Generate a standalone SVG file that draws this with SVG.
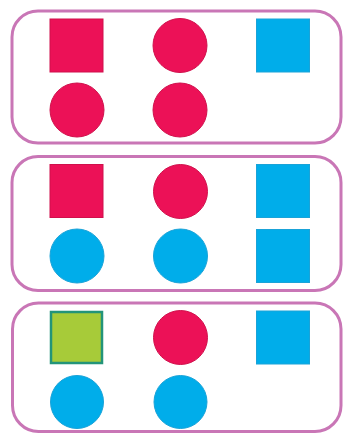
<svg xmlns="http://www.w3.org/2000/svg" width="346" height="434" viewBox="0 0 346 434">
<style>
.box{fill:#fff;stroke:#c976b6;stroke-width:3}
.red{fill:#ec1157;stroke:#d0104c;stroke-width:1}
.blue{fill:#00adea;stroke:#1aa3d8;stroke-width:1}
.green{fill:#a7cb39;stroke:#239479;stroke-width:2.5}
</style>
<rect width="346" height="434" fill="#fff"/>
<g id="group1">
<rect class="box" x="12" y="11" width="329" height="132" rx="26"/>
<rect class="red" x="50" y="19" width="53" height="53"/>
<circle class="red" cx="180" cy="45.5" r="27"/>
<rect class="blue" x="256.5" y="19" width="53" height="53"/>
<circle class="red" cx="77" cy="110" r="27"/>
<circle class="red" cx="180" cy="110" r="27"/>
</g>
<g id="group2">
<rect class="box" x="12" y="156.5" width="329" height="134" rx="26"/>
<rect class="red" x="50" y="164.5" width="53" height="53"/>
<circle class="red" cx="180.5" cy="191.5" r="27"/>
<rect class="blue" x="256.5" y="164.5" width="53" height="53"/>
<circle class="blue" cx="77" cy="256" r="27"/>
<circle class="blue" cx="180.5" cy="256" r="27"/>
<rect class="blue" x="256.5" y="229.5" width="53" height="53"/>
</g>
<g id="group3">
<rect class="box" x="12.5" y="303" width="328.5" height="128.5" rx="26"/>
<rect class="green" x="51" y="312" width="51" height="51"/>
<circle class="red" cx="180.5" cy="337.5" r="27"/>
<rect class="blue" x="256.5" y="311" width="53" height="53"/>
<circle class="blue" cx="77" cy="402" r="26.5"/>
<circle class="blue" cx="180.5" cy="402" r="26.5"/>
</g>
<g id="connectors"></g>
</svg>
